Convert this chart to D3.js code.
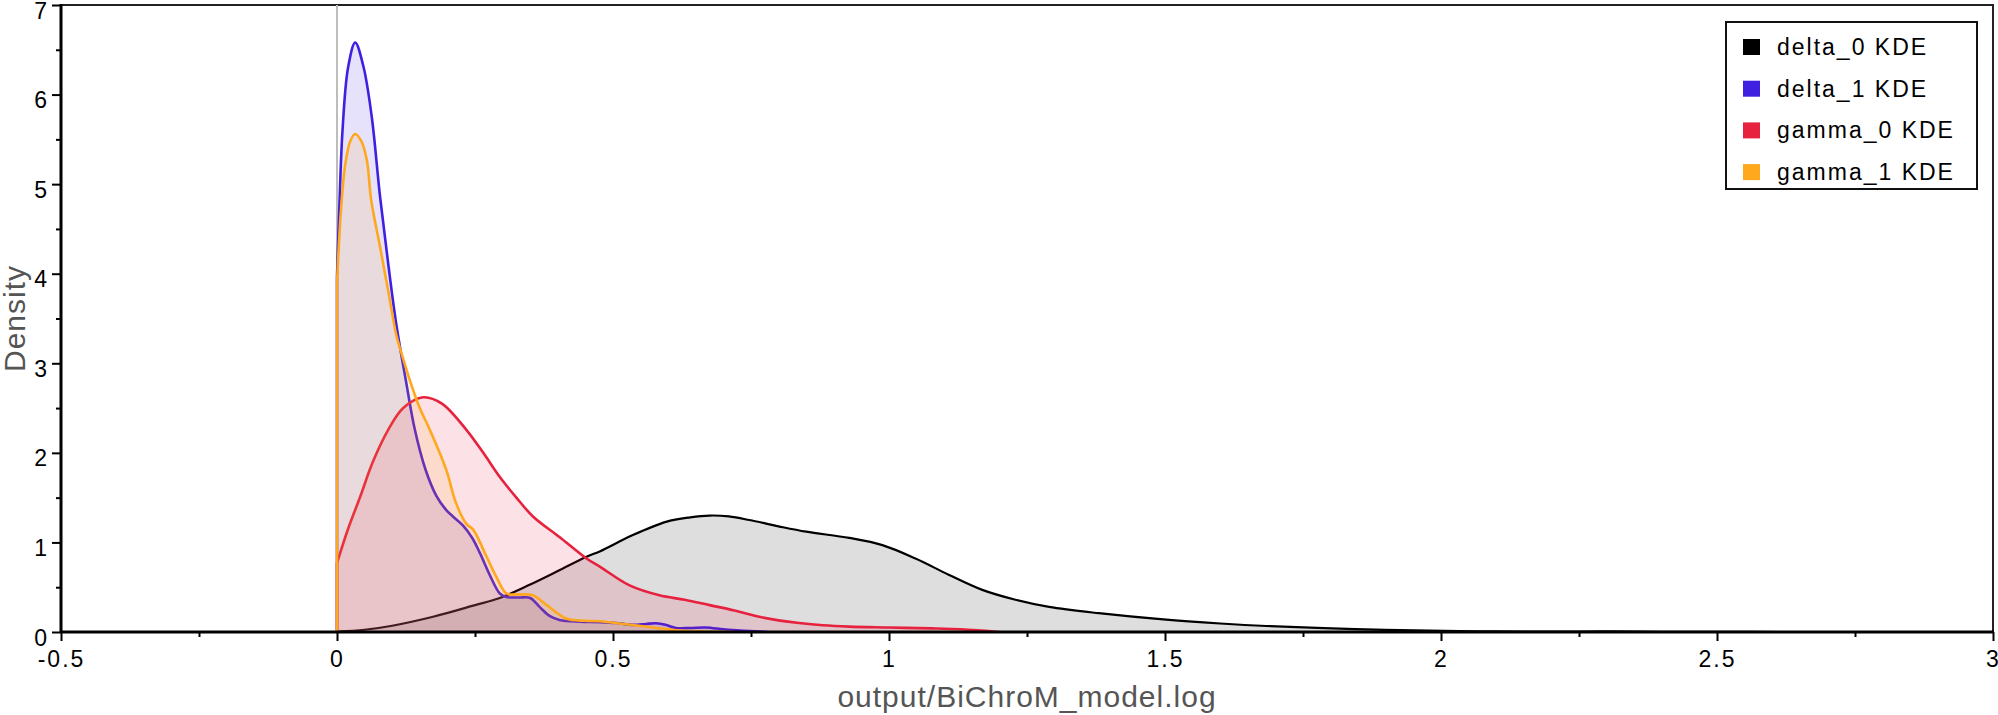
<!DOCTYPE html>
<html>
<head>
<meta charset="utf-8">
<script src="https://cdn.jsdelivr.net/npm/d3@7"></script>
<style>
  body { margin: 0; background: #fff; }
  text { font-family: "Liberation Sans", Arial, sans-serif; }
</style>
</head>
<body>
<div id="chart"></div>
<script>
// KDE curves
var delta0X = [0, 0.05, 0.1, 0.174, 0.25, 0.295, 0.35, 0.4, 0.452, 0.476, 0.535, 0.596, 0.64, 0.675, 0.71, 0.747, 0.8, 0.85, 0.928, 0.988, 1.048, 1.108, 1.169, 1.229, 1.29, 1.38, 1.497, 1.6, 1.683, 1.845, 2.005, 2.1, 2.2, 2.3, 2.4, 2.5, 2.65];
var delta0Y = [0.005, 0.025, 0.07, 0.17, 0.3, 0.38, 0.53, 0.68, 0.84, 0.9, 1.08, 1.23, 1.28, 1.3, 1.29, 1.25, 1.18, 1.12, 1.05, 0.97, 0.82, 0.64, 0.47, 0.36, 0.28, 0.21, 0.14, 0.095, 0.067, 0.033, 0.012, 0.006, 0.004, 0.006, 0.003, 0.001, 0];

var delta1X = [0, 0.004, 0.01, 0.02, 0.033, 0.048, 0.063, 0.078, 0.093, 0.108, 0.125, 0.141, 0.16, 0.18, 0.198, 0.21, 0.228, 0.245, 0.259, 0.278, 0.295, 0.307, 0.33, 0.35, 0.367, 0.385, 0.403, 0.44, 0.476, 0.506, 0.536, 0.56, 0.578, 0.595, 0.614, 0.64, 0.668, 0.7, 0.73, 0.78];
var delta1Y = [3.97, 4.7, 5.6, 6.3, 6.58, 6.31, 5.75, 4.86, 4.1, 3.41, 2.8, 2.26, 1.82, 1.52, 1.36, 1.29, 1.19, 1.05, 0.88, 0.62, 0.43, 0.39, 0.385, 0.38, 0.28, 0.18, 0.135, 0.115, 0.11, 0.1, 0.08, 0.09, 0.097, 0.08, 0.045, 0.045, 0.05, 0.03, 0.015, 0];

var gamma0X = [0, 0.02, 0.042, 0.065, 0.093, 0.12, 0.156, 0.19, 0.234, 0.265, 0.295, 0.325, 0.355, 0.403, 0.452, 0.476, 0.53, 0.584, 0.63, 0.675, 0.72, 0.765, 0.8, 0.837, 0.88, 0.928, 1.0, 1.078, 1.13, 1.168, 1.2];
var gamma0Y = [0.77, 1.15, 1.51, 1.9, 2.26, 2.5, 2.62, 2.55, 2.26, 2.0, 1.73, 1.5, 1.29, 1.06, 0.82, 0.73, 0.52, 0.41, 0.36, 0.3, 0.24, 0.17, 0.13, 0.1, 0.075, 0.06, 0.05, 0.04, 0.03, 0.015, 0];

var gamma1X = [0, 0.004, 0.0085, 0.0145, 0.024, 0.033, 0.044, 0.054, 0.062, 0.078, 0.093, 0.108, 0.12, 0.132, 0.15, 0.168, 0.198, 0.215, 0.234, 0.247, 0.271, 0.29, 0.307, 0.33, 0.355, 0.38, 0.415, 0.45, 0.476, 0.52, 0.566, 0.614, 0.66, 0.72];
var gamma1Y = [3.89, 4.4, 4.82, 5.2, 5.48, 5.56, 5.48, 5.27, 4.82, 4.3, 3.8, 3.3, 3.05, 2.81, 2.5, 2.26, 1.81, 1.45, 1.21, 1.14, 0.84, 0.6, 0.43, 0.42, 0.41, 0.3, 0.15, 0.125, 0.12, 0.09, 0.055, 0.02, 0.008, 0];

var seriesNames = ["delta_0 KDE", "delta_1 KDE", "gamma_0 KDE", "gamma_1 KDE"];
var seriesColors = ["#000000", "#4020e0", "#e6223f", "#ffa81e"];

var xTicks = [-0.5, 0, 0.5, 1, 1.5, 2, 2.5, 3];
var xTickLabels = ["-0.5", "0", "0.5", "1", "1.5", "2", "2.5", "3"];
var yTicks = [0, 1, 2, 3, 4, 5, 6, 7];
var xTitle = "output/BiChroM_model.log";
var yTitle = "Density";

function init() {
    var w = 1998;
    var h = 715;
    var left = 61, right = 1993, top = 5, bottom = 632;

    var xscale = d3.scaleLinear().domain([-0.5, 3]).range([left, right]);
    var yscale = d3.scaleLinear().domain([0, 7]).range([bottom, top]);

    var svg = d3.select("#chart")
                .append("svg")
                .attr("width", w)
                .attr("height", h);

    svg.append("clipPath").attr("id", "plotclip")
        .append("rect")
        .attr("x", left).attr("y", top)
        .attr("width", right - left).attr("height", bottom - top);

    // frame top / right
    svg.append("rect")
        .attr("x", left).attr("y", top)
        .attr("width", right - left).attr("height", bottom - top)
        .attr("fill", "none").attr("stroke", "#222").attr("stroke-width", 2);

    // zero reference line
    svg.append("line")
        .attr("x1", xscale(0)).attr("x2", xscale(0))
        .attr("y1", top).attr("y2", bottom)
        .attr("stroke", "#bdbdbd").attr("stroke-width", 2);

    var xsets = [delta0X, delta1X, gamma0X, gamma1X];
    var ysets = [delta0Y, delta1Y, gamma0Y, gamma1Y];

    var curve = d3.curveCatmullRom.alpha(0.5);

    var area = d3.area()
        .x(function(d) { return xscale(d[0]); })
        .y0(yscale(0))
        .y1(function(d) { return yscale(d[1]); })
        .curve(curve);

    var line = d3.line()
        .x(function(d) { return xscale(d[0]); })
        .y(function(d) { return yscale(d[1]); })
        .curve(curve);

    var plot = svg.append("g").attr("clip-path", "url(#plotclip)");

    for (var s = 0; s < 4; s++) {
        var pts = xsets[s].map(function(x, i) { return [x, ysets[s][i]]; });
        plot.append("path")
            .attr("d", area(pts))
            .attr("fill", seriesColors[s])
            .attr("fill-opacity", 0.13);
        // outline starts on the baseline at the left edge
        plot.append("path")
            .attr("d", "M" + xscale(pts[0][0]) + "," + yscale(0) + line(pts).replace(/^M/, "L"))
            .attr("fill", "none")
            .attr("stroke", seriesColors[s])
            .attr("stroke-width", s == 0 ? 2.2 : 2.6)
            .attr("stroke-linejoin", "round");
    }

    // x axis minor + major ticks
    var xMinor = [];
    for (var v = -0.25; v < 3; v += 0.5) xMinor.push(v);
    svg.append("g")
        .attr("transform", "translate(0," + bottom + ")")
        .call(d3.axisBottom(xscale).tickValues(xMinor).tickSize(5).tickFormat(""))
        .call(function(g) { g.select(".domain").remove(); g.selectAll("line").attr("stroke-width", 2); });

    var xAxis = svg.append("g")
        .attr("transform", "translate(0," + bottom + ")")
        .call(d3.axisBottom(xscale).tickValues(xTicks).tickSize(9)
              .tickFormat(function(d, i) { return xTickLabels[i]; }));
    xAxis.select(".domain").remove();
    xAxis.selectAll("line").attr("stroke-width", 2);
    xAxis.selectAll("text")
        .attr("y", 35).attr("dy", 0)
        .style("font-size", "23px")
        .style("letter-spacing", "2px")
        .attr("fill", "#000");

    // y axis
    var yMinor = [];
    for (var u = 0.5; u < 7; u += 1) yMinor.push(u);
    svg.append("g")
        .attr("transform", "translate(" + left + ",0)")
        .call(d3.axisLeft(yscale).tickValues(yMinor).tickSize(5).tickFormat(""))
        .call(function(g) { g.select(".domain").remove(); g.selectAll("line").attr("stroke-width", 2); });

    var yAxis = svg.append("g")
        .attr("transform", "translate(" + left + ",0)")
        .call(d3.axisLeft(yscale).tickValues(yTicks).tickSize(9).tickFormat(d3.format("d")));
    yAxis.select(".domain").remove();
    yAxis.selectAll("line").attr("stroke-width", 2);
    yAxis.selectAll("text")
        .attr("x", -14).attr("y", 13).attr("dy", 0)
        .style("font-size", "23px")
        .attr("fill", "#000");

    // main axis lines
    svg.append("line").attr("x1", left).attr("x2", right + 1)
        .attr("y1", bottom).attr("y2", bottom)
        .attr("stroke", "#000").attr("stroke-width", 3);
    svg.append("line").attr("x1", left).attr("x2", left)
        .attr("y1", top - 1).attr("y2", bottom + 1)
        .attr("stroke", "#000").attr("stroke-width", 3);

    // titles
    svg.append("text")
        .attr("x", (left + right) / 2).attr("y", 707)
        .attr("text-anchor", "middle")
        .style("font-size", "30px")
        .style("letter-spacing", "1px")
        .attr("fill", "#555")
        .text(xTitle);

    svg.append("text")
        .attr("transform", "translate(25," + ((top + bottom) / 2) + ") rotate(-90)")
        .attr("text-anchor", "middle")
        .style("font-size", "30px")
        .style("letter-spacing", "1px")
        .attr("fill", "#555")
        .text(yTitle);

    // legend
    var lg = svg.append("g");
    lg.append("rect")
        .attr("x", 1726).attr("y", 22)
        .attr("width", 251).attr("height", 167)
        .attr("fill", "#fff").attr("stroke", "#111").attr("stroke-width", 2);
    seriesNames.forEach(function(name, i) {
        var by = 55 + i * 41.7;
        lg.append("rect")
            .attr("x", 1743).attr("y", by - 16)
            .attr("width", 17).attr("height", 16)
            .attr("fill", seriesColors[i]);
        lg.append("text")
            .attr("x", 1777).attr("y", by)
            .style("font-size", "23px")
            .style("letter-spacing", "2px")
            .attr("fill", "#000")
            .text(name);
    });
}
window.onload = init;
</script>
</body>
</html>
